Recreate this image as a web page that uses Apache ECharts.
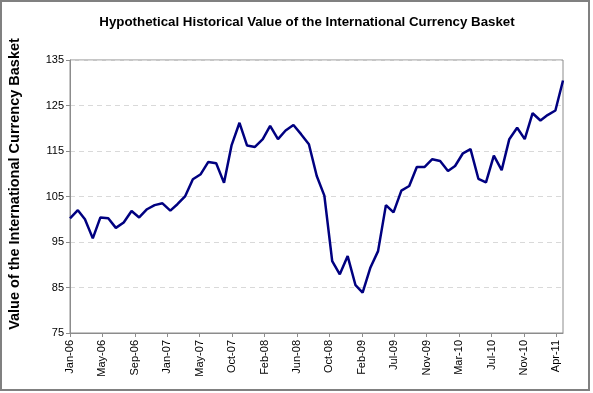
<!DOCTYPE html>
<html>
<head>
<meta charset="utf-8">
<script src="https://cdn.jsdelivr.net/npm/echarts@6/dist/echarts.min.js"></script>
<style>
html,body{margin:0;padding:0;background:#fff;}
#c{width:593px;height:393px;}
</style>
</head>
<body>
<div id="c"></div>
<script>
// Monthly observation dates (first of month)
const months = [
  '2006-01','2006-02','2006-03','2006-04','2006-05','2006-06','2006-07','2006-08','2006-09','2006-10','2006-11','2006-12',
  '2007-01','2007-02','2007-03','2007-04','2007-05','2007-06','2007-07','2007-08','2007-09','2007-10','2007-11','2007-12',
  '2008-01','2008-02','2008-03','2008-04','2008-05','2008-06','2008-07','2008-08','2008-09','2008-10','2008-11','2008-12',
  '2009-01','2009-02','2009-03','2009-04','2009-05','2009-06','2009-07','2009-08','2009-09','2009-10','2009-11','2009-12',
  '2010-01','2010-02','2010-03','2010-04','2010-05','2010-06','2010-07','2010-08','2010-09','2010-10','2010-11','2010-12',
  '2011-01','2011-02','2011-03','2011-04','2011-05'
];
// Basket values
const values = [
  100.2,102.0,100.0,95.8,100.4,100.2,98.1,99.3,101.8,100.4,102.2,103.1,
  103.5,101.9,103.3,105.1,108.8,109.9,112.6,112.3,108.0,116.3,121.2,116.2,
  115.9,117.6,120.5,117.6,119.5,120.7,118.7,116.5,109.5,105.2,90.8,87.9,
  91.9,85.5,83.9,89.4,93.0,103.1,101.5,106.3,107.3,111.5,111.5,113.2,
  112.8,110.6,111.7,114.5,115.4,108.9,108.1,114.0,110.8,117.6,120.1,117.6,
  123.3,121.7,122.9,123.9,130.5
];
// Axis tick settings (days since 2006-01-01, Excel-style date axis, 128-day major unit)
const tickStepDays = 128;
const tickCount = 16;
const yTicks = [75, 85, 95, 105, 115, 125, 135];

const title = 'Hypothetical Historical Value of the International Currency Basket';
const yName = 'Value of the International Currency Basket';

const DAY = 86400000;
const base = Date.UTC(2006, 0, 1);
function toDays(s) {
  const [y, m] = s.split('-').map(Number);
  return (Date.UTC(y, m - 1, 1) - base) / DAY;
}
const MON = ['Jan','Feb','Mar','Apr','May','Jun','Jul','Aug','Sep','Oct','Nov','Dec'];
function fmt(d) {
  const dt = new Date(base + d * DAY);
  return MON[dt.getUTCMonth()] + '-' + String(dt.getUTCFullYear() % 100).padStart(2, '0');
}
const xs = months.map(toDays);
const data = xs.map((x, i) => [x, values[i]]);
const ticks = [];
for (let i = 0; i < tickCount; i++) ticks.push(i * tickStepDays);

const FF = 'Liberation Sans, Arial, sans-serif';
const chart = echarts.init(document.getElementById('c'), null, {renderer: 'canvas'});
chart.setOption({
  animation: false,
  backgroundColor: '#fff',
  textStyle: {fontFamily: FF},
  title: {
    text: title,
    left: 302, top: 11, textAlign: 'center',
    textStyle: {fontSize: 13.3, fontWeight: 'bold', color: '#000', fontFamily: FF}
  },
  graphic: [{
    type: 'rect', silent: true, z: -1,
    shape: {x: 1, y: 1, width: 588, height: 389},
    style: {fill: 'none', stroke: '#808080', lineWidth: 2}
  }, {
    type: 'text', silent: true,
    x: 15, y: 184, rotation: Math.PI / 2,
    style: {
      text: yName, fill: '#000',
      font: 'bold 14.5px ' + FF,
      align: 'center', verticalAlign: 'middle'
    }
  }],
  grid: {
    left: 70, right: 30, top: 60, bottom: 60,
    outerBoundsMode: 'none',
    containLabel: false,
    show: true, borderColor: '#8c8c8c', borderWidth: 1, backgroundColor: 'transparent'
  },
  xAxis: {
    type: 'value',
    min: 0,
    max: xs[xs.length - 1],
    interval: tickStepDays,
    axisLine: {lineStyle: {color: '#8c8c8c', width: 1}},
    axisTick: {show: true, length: 4, customValues: ticks, lineStyle: {color: '#8c8c8c'}},
    axisLabel: {
      customValues: ticks,
      rotate: 90, margin: 7, fontSize: 11, color: '#000',
      fontFamily: FF,
      formatter: v => fmt(v)
    },
    splitLine: {show: false}
  },
  yAxis: {
    type: 'value',
    min: yTicks[0], max: yTicks[yTicks.length - 1], interval: 10,
    axisLine: {show: true, lineStyle: {color: '#8c8c8c', width: 1}},
    axisTick: {show: true, length: 4, lineStyle: {color: '#8c8c8c'}},
    axisLabel: {fontSize: 11, color: '#000', margin: 6, fontFamily: FF},
    splitLine: {show: true, lineStyle: {color: '#d9d9d9', type: [5, 4], width: 1}}
  },
  series: [{
    type: 'line',
    data: data,
    showSymbol: false,
    symbol: 'none',
    lineStyle: {color: '#000080', width: 2.5},
    itemStyle: {color: '#000080'}
  }]
});
</script>
</body>
</html>
